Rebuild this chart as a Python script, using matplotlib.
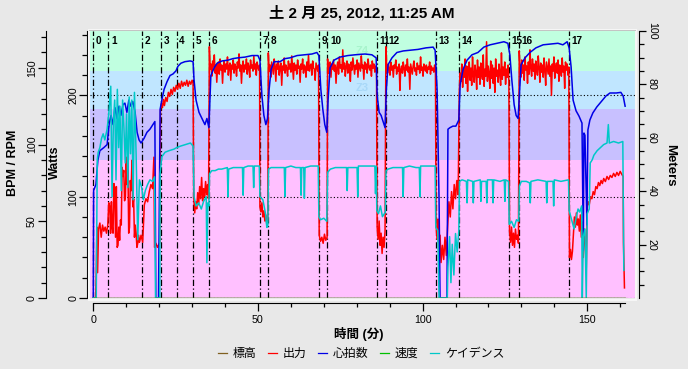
import numpy as np
import matplotlib.pyplot as plt
from matplotlib.patches import Rectangle
from matplotlib.lines import Line2D
from matplotlib.ticker import MultipleLocator, FixedLocator
from matplotlib.transforms import blended_transform_factory

plt.rcParams['font.family'] = ['Liberation Sans', 'Noto Sans CJK JP']

# ---- data (minutes) ----
title = "土 2 月 25, 2012, 11:25 AM"
lap_t = [0, 4.55, 14.7, 20.5, 25.3, 30.4, 35.2, 50.6, 53.1, 68.5, 71.1,
         86.1, 88.8, 104.0, 111.1, 126.3, 129.3, 144.5]
lap_names = [str(i) for i in range(len(lap_t))]

zone_bpm = [0, 90, 123, 148, 174]
zone_colors = ['#FFC0FF', '#C8C0FF', '#C0E6FF', '#C0FFE0']
zone_labels = [('Z4', 244, '#A8F4CC'), ('Z3', 207, '#A8D8F8')]  # label, watts, colour

heart_rate = [
    (0, 0), (0.1, 70), (0.8, 74), (1.4, 90), (2.0, 96), (3.2, 98), (4.2, 100), (4.8, 113),
    (5.4, 119), (6.0, 113), (6.6, 124), (7.2, 117), (7.8, 125), (8.4, 119), (9.0, 126),
    (9.6, 127), (10.2, 121), (10.8, 129), (11.4, 125), (12.0, 128), (12.7, 121), (13.3, 108),
    (13.9, 103), (14.5, 101), (15.4, 104), (16.3, 108), (17.2, 110), (18.1, 113), (18.7, 115),
    (19.0, 0), (19.8, 0), (20.3, 123), (20.9, 130), (21.5, 136), (22.4, 141), (23.3, 145),
    (24.2, 146), (25.1, 148), (25.7, 151), (26.6, 153), (27.8, 154), (29.4, 154.5), (30.3, 154),
    (30.6, 142), (31.2, 129), (32.1, 121), (33.0, 117), (33.9, 113), (34.5, 117), (35.1, 111),
    (35.4, 129), (35.7, 145), (36.7, 150), (37.6, 153), (39.1, 154.5), (40.9, 155), (42.4, 156),
    (43.9, 156.5), (46.1, 157), (48.2, 158), (50.0, 158), (50.6, 155), (51.2, 132), (51.8, 119),
    (52.4, 113), (52.9, 117), (53.4, 136), (54.0, 149), (54.9, 154), (56.7, 154), (58.2, 156),
    (59.7, 156.5), (61.9, 158), (64.3, 158.5), (66.4, 159), (67.9, 160), (68.5, 158), (69.1, 136),
    (69.7, 123), (70.3, 113), (70.9, 108), (71.3, 129), (71.9, 150), (73.1, 155), (74.9, 157),
    (77.3, 158), (79.5, 158.5), (82.5, 159), (84.6, 158.5), (85.9, 156.5), (86.2, 132),
    (86.8, 121), (87.4, 119), (88.0, 115), (88.6, 111), (89.0, 136), (89.5, 152), (90.7, 156.5),
    (92.2, 160), (94.1, 161), (96.2, 161.5), (98.6, 162), (101.0, 163), (103.2, 163.5),
    (103.8, 161.5), (104.4, 136), (105.0, 64), (105.3, 0), (107.4, 0), (107.7, 110), (108.3, 111),
    (109.2, 112), (110.1, 112), (111.0, 116), (111.4, 139), (112.3, 149), (113.5, 155),
    (115.0, 158.5), (116.8, 160), (118.6, 163.5), (120.5, 165), (122.6, 166), (124.7, 167),
    (125.9, 166), (126.5, 158.5), (127.1, 142), (127.8, 126), (128.4, 119), (129.0, 117),
    (129.5, 136), (129.9, 152), (131.1, 156.5), (132.6, 160), (134.4, 163), (136.6, 165),
    (138.8, 165.5), (141.1, 166), (142.6, 165), (143.9, 167), (144.5, 163), (145.1, 150.5),
    (145.7, 129), (146.6, 122), (147.5, 118.5), (148.4, 114), (148.8, 31), (149.0, 107.5),
    (149.3, 106), (149.9, 47.6), (150.2, 109.5), (150.8, 116), (151.7, 120.6), (152.9, 124.5),
    (154.2, 127.8), (155.7, 131.7), (156.9, 133.6), (158.8, 133.6), (160.2, 134), (160.9, 131.7),
    (161.5, 125)]

cadence = [
    (0, 0), (0.9, 0), (1.2, 90), (1.5, 95), (2.0, 98), (2.5, 104), (3.0, 107), (3.5, 103),
    (4.2, 110), (4.7, 120), (5.3, 138), (5.7, 66), (6.1, 114), (6.5, 129), (6.9, 77), (7.3, 136),
    (7.7, 98), (8.1, 125), (8.5, 70), (8.9, 129), (9.3, 111), (9.7, 88), (10.1, 120), (10.5, 72),
    (10.9, 131), (11.3, 94), (11.7, 129), (12.1, 64), (12.5, 134), (13.0, 94), (13.5, 38),
    (14.0, 77), (14.7, 72), (15.2, 64), (15.8, 70), (16.5, 74), (17.2, 77), (18.0, 76), (18.6, 79),
    (18.9, 0), (20.2, 0), (20.3, 81), (20.8, 92), (21.8, 95), (23.0, 96), (24.5, 97), (25.3, 98),
    (26.5, 99), (28.0, 100), (29.5, 101), (30.3, 99), (30.6, 66), (31.2, 60), (32.0, 62),
    (32.8, 58), (33.5, 63), (34.3, 66), (34.5, 23), (34.8, 62), (35.1, 60),
    (35.3, 81), (36.0, 83), (37.0, 83), (38.0, 84), (39.0, 84), (40.7, 85), (40.9, 66), (41.1, 84),
    (42.5, 85), (44.0, 85), (45.3, 85), (45.5, 67), (45.7, 85), (47.0, 86), (48.5, 86), (48.7, 72),
    (48.9, 86), (50.4, 86),
    (50.6, 66), (51.5, 64), (52.3, 55), (52.7, 46), (53.0, 47),
    (53.2, 84), (54.0, 85), (55.5, 85), (57.0, 85), (58.0, 85), (58.2, 66), (58.4, 85), (60.0, 86),
    (61.5, 85), (62.9, 85), (63.1, 67), (63.3, 85), (63.9, 85), (64.1, 65), (64.3, 85), (66.0, 86),
    (68.3, 86),
    (68.5, 53), (69.0, 51), (70.0, 52), (70.9, 50),
    (71.2, 82), (72.0, 84), (73.5, 85), (75.0, 85), (76.9, 85), (77.1, 70), (77.3, 85), (80.1, 85),
    (80.3, 66), (80.5, 86), (82.0, 86), (84.5, 86), (85.5, 86), (85.7, 68), (85.9, 86),
    (86.1, 57), (86.6, 55), (87.2, 60), (87.8, 53), (88.4, 55), (88.7, 56),
    (88.9, 83), (89.5, 84), (91.0, 85), (93.0, 85), (93.9, 85), (94.1, 66), (94.3, 85), (96.0, 86),
    (98.0, 85), (99.0, 85), (99.2, 66), (99.4, 86), (101.0, 86), (103.8, 86),
    (104.0, 46), (104.6, 44), (105.0, 0), (107.5, 0), (107.7, 20), (108.2, 40), (108.6, 10),
    (109.0, 35), (109.5, 15), (110.0, 42), (110.5, 30), (111.0, 44),
    (111.2, 76), (112.0, 77), (113.3, 76), (113.5, 62), (113.7, 77), (115.2, 76), (115.4, 62),
    (115.6, 76), (117.5, 77), (117.7, 63), (117.9, 76), (119.3, 76), (119.5, 62), (119.7, 77),
    (121.2, 77), (121.4, 62), (121.6, 77), (123.5, 76), (124.8, 77), (125.0, 63), (125.2, 77),
    (126.1, 76),
    (126.3, 48), (127.0, 50), (127.8, 46), (128.5, 51), (129.2, 50),
    (129.4, 73), (130.0, 76), (131.5, 76), (132.5, 75), (132.7, 62), (132.9, 76), (135.0, 77),
    (137.5, 76), (137.7, 62), (137.9, 76), (139.6, 76), (139.8, 60), (140.0, 77), (142.0, 76),
    (144.3, 77),
    (144.5, 57), (145.0, 53), (145.5, 49), (146.0, 45), (146.6, 52), (147.2, 58), (147.7, 56),
    (148.3, 60), (148.5, 0), (148.8, 40), (149.3, 45), (149.7, 0), (150.0, 55), (150.6, 58),
    (150.9, 88), (151.5, 90), (152.0, 93), (153.0, 96), (154.0, 98), (155.0, 100), (156.0, 101),
    (156.4, 113), (156.7, 101), (158.0, 102), (159.5, 101), (160.8, 102), (161.1, 18)]

power_warmup = [
    (0, 0), (0.7, 0), (0.9, 25), (1.1, 70), (1.3, 25), (1.6, 68), (2.0, 74), (2.4, 60), (2.8, 72),
    (3.2, 66), (3.6, 70), (4.0, 64), (4.4, 72), (4.7, 94), (5.0, 90), (5.25, 64), (5.5, 95),
    (5.75, 70), (6.0, 64), (6.25, 113), (6.5, 108), (6.75, 60), (7.0, 110), (7.25, 50), (7.5, 52),
    (7.75, 70), (8.0, 57), (8.25, 77), (8.5, 72), (8.75, 129), (9.0, 120), (9.25, 126), (9.5, 96),
    (9.75, 100), (10.0, 139), (10.25, 112), (10.5, 135), (10.75, 64), (11.0, 70), (11.25, 116),
    (11.5, 106), (11.75, 136), (12.0, 90), (12.25, 98), (12.5, 60), (12.75, 72), (13.0, 64),
    (13.25, 50), (13.5, 54), (13.75, 62), (14.0, 55), (14.25, 58), (14.5, 62), (15.0, 55),
    (15.5, 92), (16.0, 98), (16.5, 95), (17.0, 105), (17.5, 112), (18.0, 108), (18.4, 139),
    (18.6, 50), (19.0, 54), (19.5, 50), (20.2, 55), (20.4, 185), (20.7, 192), (21.0, 188),
    (21.3, 196), (21.6, 190), (22.0, 198), (22.4, 194), (22.8, 203), (23.2, 199), (23.6, 206),
    (24.0, 201), (24.4, 208), (24.8, 204), (25.2, 210), (25.6, 206), (26.0, 212), (26.4, 207),
    (26.8, 214), (27.2, 209), (27.6, 213), (28.0, 210), (28.4, 215), (28.8, 209), (29.2, 214),
    (29.6, 211), (30.0, 215), (30.3, 212), (30.5, 100), (30.8, 84), (31.1, 95), (31.4, 88),
    (31.7, 104), (32.0, 92), (32.3, 110), (32.6, 98), (32.9, 119), (33.2, 96), (33.5, 108),
    (33.8, 100), (34.1, 115), (34.4, 102), (34.7, 112), (35.0, 98)]

# interval efforts, evenly spread over each lap
power_lap6 = [248, 226, 231, 219, 234, 228, 240, 222, 230, 213, 229, 233, 221, 236, 225, 230,
              212, 228, 234, 223, 231, 226, 238, 220, 229, 232, 215, 230, 226, 235, 222, 231,
              228, 219, 233, 227, 241, 224, 230, 212, 229, 234, 223, 230, 226, 236, 221, 232,
              228, 218, 235, 227, 230, 224, 239, 226, 231, 220, 233, 228, 225, 230]
power_lap8 = [242, 224, 230, 218, 233, 227, 221, 236, 229, 214, 231, 226, 234, 220, 228, 232,
              210, 229, 225, 237, 222, 230, 227, 219, 234, 226, 231, 223, 239, 228, 216, 232,
              225, 230, 221, 235, 227, 229, 213, 231, 226, 236, 222, 230, 228, 218, 233, 225,
              240, 224, 229, 231, 220, 234, 227, 226, 215, 232, 228, 224, 230]
power_lap10 = [236, 222, 229, 233, 218, 231, 226, 235, 224, 230, 212, 228, 233, 221, 238, 227,
               230, 223, 245, 226, 232, 219, 229, 234, 222, 231, 227, 214, 233, 225, 237, 229,
               221, 230, 226, 235, 218, 232, 228, 224, 239, 227, 230, 216, 233, 226, 231, 222,
               236, 228, 225, 230, 219, 234, 227, 231, 223, 229, 226]
power_lap12 = [248, 228, 222, 231, 226, 220, 233, 225, 229, 218, 230, 227, 235, 221, 228, 224,
               231, 205, 226, 229, 222, 233, 227, 219, 230, 225, 236, 223, 228, 206, 231, 226,
               221, 229, 234, 224, 227, 220, 232, 226, 229, 222, 238, 225, 228, 219, 231, 227,
               224, 230, 222, 228, 226, 233, 221, 229, 225, 227, 223, 230, 226]
power_lap14 = [205, 222, 214, 231, 208, 226, 218, 236, 212, 229, 204, 224, 233, 215, 227, 210,
               238, 220, 213, 230, 223, 206, 235, 218, 228, 211, 232, 221, 216, 240, 209, 226,
               219, 253, 214, 229, 222, 207, 234, 217, 230, 212, 227, 203, 236, 219, 225, 213,
               231, 222, 210, 242, 216, 228, 220, 233, 211, 226, 218, 230, 214]
power_lap16 = [244, 226, 218, 235, 222, 230, 215, 238, 225, 229, 212, 233, 221, 245, 227, 219,
               236, 224, 231, 216, 234, 226, 220, 239, 228, 213, 232, 223, 230, 218, 237, 225,
               210, 233, 227, 221, 236, 219, 229, 200, 231, 224, 238, 217, 228, 232, 222, 235,
               214, 230, 226, 219, 237, 223, 229, 207, 233, 225, 231, 220, 228]

power_rest7 = [(50.6, 90), (50.9, 85), (51.2, 94), (51.5, 80), (51.8, 86), (52.1, 76),
               (52.4, 82), (52.7, 72), (53.0, 78)]
power_rest9 = [(68.6, 62), (69.0, 56), (69.4, 60), (69.8, 54), (70.2, 63), (70.6, 57), (71.0, 60)]
power_rest11 = [(86.2, 70), (86.5, 58), (86.8, 76), (87.1, 52), (87.4, 64), (87.7, 44),
                (88.0, 60), (88.3, 50), (88.6, 66)]
power_rest13 = [(104.1, 72), (104.4, 58), (104.7, 78), (105.0, 40), (105.3, 62), (105.6, 35),
                (106.0, 52), (106.4, 38), (106.8, 60), (107.2, 42), (107.6, 70), (108.0, 95),
                (108.4, 80), (108.8, 105), (109.2, 88), (109.6, 112), (110.0, 98), (110.4, 116),
                (110.8, 102)]
power_rest15 = [(126.4, 66), (126.7, 55), (127.0, 70), (127.3, 52), (127.6, 64), (127.9, 50),
                (128.2, 68), (128.5, 58), (128.8, 62), (129.1, 54)]
power_cooldown = [
    (144.6, 40), (144.9, 48), (145.2, 38), (145.5, 46), (145.8, 64), (146.1, 80), (146.4, 70),
    (146.7, 84), (147.0, 72), (147.3, 78), (147.6, 66), (147.9, 82), (148.2, 60), (148.5, 75),
    (148.8, 40), (149.1, 68), (149.4, 55), (149.7, 30), (150.0, 90), (150.3, 95), (150.6, 92),
    (151.0, 100), (151.4, 98), (151.8, 105), (152.2, 102), (152.6, 110), (153.0, 108),
    (153.4, 114), (153.8, 111), (154.2, 116), (154.6, 113), (155.0, 118), (155.5, 115),
    (156.0, 120), (156.5, 117), (157.0, 121), (157.5, 119), (158.0, 123), (158.5, 120),
    (159.0, 124), (159.5, 121), (160.0, 125), (160.5, 122), (160.9, 120), (161.0, 55), (161.3, 10)]

elevation = [(0, 0), (161.5, 0)]
speed = [(0, 0), (161.5, 0)]

# ---- assemble power series ----
power = list(power_warmup)
for lap, vals in zip([6, 8, 10, 12, 14, 16],
                     [power_lap6, power_lap8, power_lap10, power_lap12, power_lap14, power_lap16]):
    t = np.linspace(lap_t[lap] + 0.05, lap_t[lap + 1] - 0.1, len(vals))
    power += list(zip(t, vals))
power += power_rest7 + power_rest9 + power_rest11 + power_rest13 + power_rest15 + power_cooldown
power.sort()
pw_t, pw_w = np.array(power).T
hr_t, hr_b = np.array(heart_rate).T
cd_t, cd_r = np.array(cadence).T
el_t, el_m = np.array(elevation).T
sp_t, sp_v = np.array(speed).T

# ---- figure ----
W, H = 688, 369
fig = plt.figure(figsize=(W / 100, H / 100), dpi=100, facecolor='#E8E8E8')
ax_w = fig.add_axes([90 / W, 1 - 298 / H, 545 / W, 267 / H])
ax_b = ax_w.twinx()
ax_m = ax_w.twinx()

ax_w.set_xlim(-1.0, 164.5)
ax_w.set_ylim(0, 263.6)
ax_b.set_ylim(0, 174)
ax_m.set_ylim(0, 100)

fig.patches.append(Rectangle((89 / W, 1 - 300 / H), 547 / W, 270 / H, transform=fig.transFigure,
                             facecolor='none', edgecolor='#F6F6F6', lw=1.5))
fig.patches.append(Rectangle((89 / W, 1 - 31 / H), 547 / W, 1.5 / H, transform=fig.transFigure,
                             facecolor='#C4C4C4', edgecolor='none'))

# heart-rate zones
band_tr = blended_transform_factory(ax_w.transAxes, ax_b.transData)
for lo, hi, c in zip(zone_bpm[:-1], zone_bpm[1:], zone_colors):
    ax_w.add_patch(Rectangle((0, lo), 1, hi - lo, transform=band_tr, facecolor=c,
                             edgecolor='none', zorder=0))
for name, w, c in zone_labels:
    ax_w.text(81.6, w, name, color=c, fontsize=8, fontweight='bold',
              ha='center', va='center', zorder=0.5)

for w in [0, 100, 200]:
    ax_w.axhline(w, color='black', ls=(0, (1, 2)), lw=0.8, zorder=1)

lab_tr = blended_transform_factory(ax_w.transData, ax_w.transAxes)
for t, name in zip(lap_t, lap_names):
    ax_w.axvline(t, color='black', ls=(0, (5, 2, 1, 2)), lw=0.9, zorder=1.5)
    ax_w.text(t + 0.8, 0.964, name, transform=lab_tr, fontsize=7.2, fontweight='bold',
              ha='left', va='center', zorder=3)

c_elev, c_pow, c_hr, c_spd, c_cad = '#806020', '#FF0000', '#0000E6', '#00C000', '#00C8C8'
ax_w.plot(pw_t, pw_w, color=c_pow, lw=1.1, zorder=2)
ax_b.plot(hr_t, hr_b, color=c_hr, lw=1.1)
ax_b.plot(cd_t, cd_r, color=c_cad, lw=1.1)
ax_m.plot(sp_t, sp_v, color=c_spd, lw=1.0)
ax_m.plot(el_t, el_m, color=c_elev, lw=1.0)

# ---- axes styling ----
for a in (ax_w, ax_b, ax_m):
    for s in a.spines.values():
        s.set_visible(False)
ax_w.spines['left'].set_visible(True)
ax_w.spines['left'].set_position(('outward', 2.2))
ax_w.spines['bottom'].set_visible(True)
ax_w.spines['bottom'].set_position(('outward', 3.6))
ax_w.spines['bottom'].set_bounds(0, 161.5)
ax_b.spines['left'].set_visible(True)
ax_b.spines['left'].set_position(('outward', 32))
ax_b.yaxis.tick_left()
ax_m.spines['right'].set_visible(True)
ax_m.spines['right'].set_position(('outward', 2.9))
ax_m.yaxis.tick_right()
ax_b.xaxis.set_visible(False)
ax_m.xaxis.set_visible(False)

ax_w.set_xticks([0, 50, 100, 150])
ax_w.xaxis.set_minor_locator(MultipleLocator(10))
ax_w.tick_params(axis='x', which='major', length=5.8, width=0.9, pad=3, labelsize=7.7)
ax_w.tick_params(axis='x', which='minor', length=3.2, width=0.9)

ax_w.set_yticks([0, 100, 200], ['0', '100', '200'], va='center')
ax_w.yaxis.set_minor_locator(MultipleLocator(20))
ax_w.tick_params(axis='y', which='major', length=5.8, width=0.9, pad=0.5, labelsize=7.7,
                 labelrotation=90)
ax_w.tick_params(axis='y', which='minor', length=3.4, width=0.9)

ax_b.set_yticks([0, 50, 100, 150], ['0', '50', '100', '150'], va='center')
ax_b.yaxis.set_minor_locator(MultipleLocator(10))
ax_b.tick_params(axis='y', which='major', length=5.8, width=0.9, pad=0.5, labelsize=7.7,
                 labelrotation=90)
ax_b.tick_params(axis='y', which='minor', length=3.4, width=0.9)

ax_m.set_yticks([20, 40, 60, 80, 100], ['20', '40', '60', '80', '100'], va='center')
ax_m.yaxis.set_minor_locator(FixedLocator([v for v in range(5, 100, 5) if v % 20]))
ax_m.tick_params(axis='y', which='major', length=5.2, width=0.9, pad=0.5, labelsize=7.7,
                 labelrotation=270)
ax_m.tick_params(axis='y', which='minor', length=3.4, width=0.9)

# ---- texts ----
fig.text(362 / W, 1 - 13 / H, title, ha='center', va='center', fontsize=11, fontweight='bold')
fig.text(13 / W, 1 - 163 / H, 'BPM / RPM', rotation=90, ha='center', va='center',
         fontsize=9, fontweight='bold')
fig.text(55 / W, 1 - 162 / H, 'Watts', rotation=90, ha='center', va='center',
         fontsize=9, fontweight='bold')
fig.text(670 / W, 1 - 165 / H, 'Meters', rotation=270, ha='center', va='center',
         fontsize=9.5, fontweight='bold')
fig.text(359 / W, 1 - 334 / H, '時間 (分)', ha='center', va='center', fontsize=9,
         fontweight='bold')

handles = [Line2D([], [], color=c, lw=0.9) for c in (c_elev, c_pow, c_hr, c_spd, c_cad)]
fig.legend(handles, ['標高', '出力', '心拍数', '速度', 'ケイデンス'], loc='center',
           bbox_to_anchor=(361 / W, 1 - 354 / H), ncol=5, frameon=False, fontsize=8.6,
           handlelength=0.8, handletextpad=0.5, columnspacing=0.9, borderpad=0)

fig.savefig('out.png', dpi=100, facecolor=fig.get_facecolor())
